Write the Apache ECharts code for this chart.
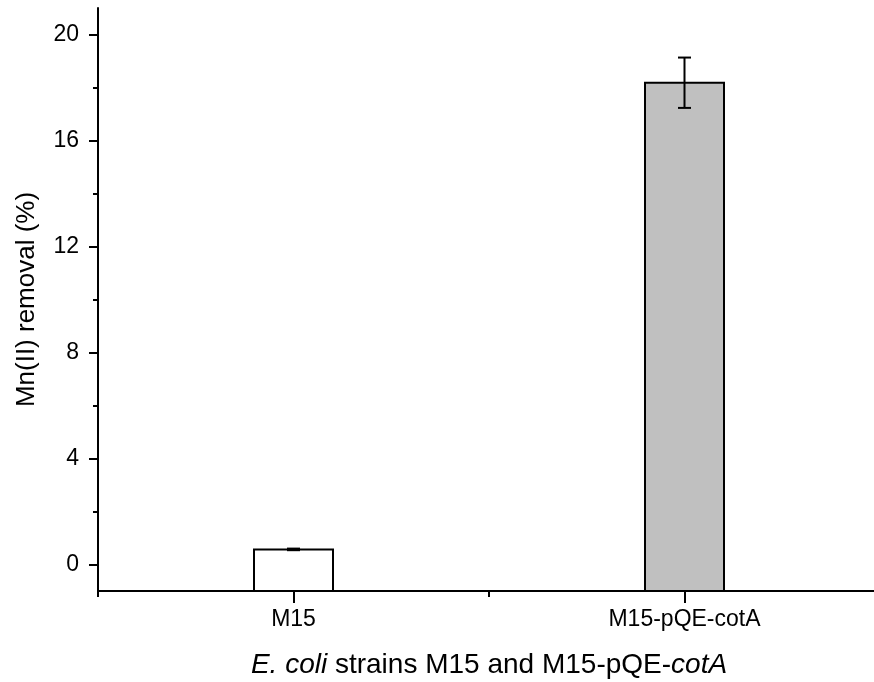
<!DOCTYPE html>
<html>
<head>
<meta charset="utf-8">
<script src="https://cdn.jsdelivr.net/npm/echarts@6.0.0/dist/echarts.min.js"></script>
<style>
	html, body { margin: 0; padding: 0; background: #fff; }
	#chart { width: 874px; height: 682px; }
</style>
</head>
<body>
<div id="chart"></div>
<script>
var categories = ['M15', 'M15-pQE-cotA'];
var removal = [0.57, 18.18];
var removalErr = [0.03, 0.95];
var barColors = ['#ffffff', '#c0c0c0'];
var yMajorTicks = [0, 4, 8, 12, 16, 20];
var yMinorTicks = [2, 6, 10, 14, 18];
var yMin = -1;
var yMax = 21;

window.onload = function() {
	var chart = echarts.init(document.getElementById('chart'));
	var font = 'Liberation Sans, Arial, sans-serif';

	var seriesData = removal.map(function(v, i) {
		return [i, v, removalErr[i]];
	});

	var option = {
		animation: false,
		backgroundColor: '#fff',
		grid: { left: 98, right: -6, top: 8, bottom: 91, outerBoundsMode: 'none' },
		xAxis: [{
			type: 'category',
			data: categories,
			boundaryGap: true,
			axisLine: { onZero: false, lineStyle: { color: '#000', width: 2 } },
			axisTick: { show: true, alignWithLabel: true, length: 12, lineStyle: { color: '#000', width: 2 } },
			axisLabel: { color: '#000', fontSize: 23, fontFamily: font, margin: 17 },
			splitLine: { show: false },
			name: '{i|E. coli} strains M15 and M15-pQE-{i|cotA}',
			nameLocation: 'middle',
			nameGap: 60,
			nameTextStyle: {
				color: '#000', fontSize: 28, fontFamily: font,
				rich: { i: { fontStyle: 'italic', fontSize: 28, fontFamily: font, color: '#000' } }
			}
		}, {
			/* 短刻度：类目边界 */
			type: 'category',
			data: categories,
			position: 'bottom',
			boundaryGap: true,
			axisLine: { show: false, onZero: false },
			axisTick: { show: true, length: 6, interval: 0, lineStyle: { color: '#000', width: 2 } },
			axisLabel: { show: false },
			splitLine: { show: false }
		}],
		yAxis: [{
			type: 'value',
			min: yMin,
			max: yMax,
			axisLine: { show: true, onZero: false, lineStyle: { color: '#000', width: 2 } },
			axisTick: { show: true, length: 9, customValues: yMajorTicks, lineStyle: { color: '#000', width: 2 } },
			axisLabel: { color: '#000', fontSize: 23, fontFamily: font, margin: 19, customValues: yMajorTicks },
			splitLine: { show: false },
			name: 'Mn(II) removal (%)',
			nameLocation: 'middle',
			nameGap: 58,
			nameTextStyle: { color: '#000', fontSize: 26, fontFamily: font }
		}, {
			/* 次刻度 */
			type: 'value',
			min: yMin,
			max: yMax,
			position: 'left',
			axisLine: { show: false, onZero: false },
			axisTick: { show: true, length: 5, customValues: yMinorTicks, lineStyle: { color: '#000', width: 2 } },
			axisLabel: { show: false },
			splitLine: { show: false }
		}],
		series: [{
			/* 柱子从坐标轴底部画起 */
			type: 'custom',
			data: seriesData,
			encode: { x: 0, y: 1 },
			z: 2,
			renderItem: function(params, api) {
				var x = api.value(0);
				var top = api.coord([x, api.value(1)]);
				var bottom = api.coord([x, yMin]);
				var w = 79;
				return {
					type: 'rect',
					shape: { x: top[0] - w / 2, y: top[1], width: w, height: bottom[1] - top[1] },
					style: { fill: barColors[params.dataIndex], stroke: '#000', lineWidth: 2 }
				};
			}
		}, {
			type: 'custom',
			data: seriesData,
			encode: { x: 0, y: 1 },
			z: 5,
			renderItem: function(params, api) {
				var x = api.value(0);
				var v = api.value(1);
				var e = api.value(2);
				var hi = api.coord([x, v + e]);
				var lo = api.coord([x, v - e]);
				var half = 6.5;
				var style = { stroke: '#000', lineWidth: 2 };
				return {
					type: 'group',
					children: [
						{ type: 'line', shape: { x1: hi[0], y1: hi[1], x2: lo[0], y2: lo[1] }, style: style },
						{ type: 'line', shape: { x1: hi[0] - half, y1: hi[1], x2: hi[0] + half, y2: hi[1] }, style: style },
						{ type: 'line', shape: { x1: lo[0] - half, y1: lo[1], x2: lo[0] + half, y2: lo[1] }, style: style }
					]
				};
			}
		}]
	};
	chart.setOption(option);
};
</script>
</body>
</html>
